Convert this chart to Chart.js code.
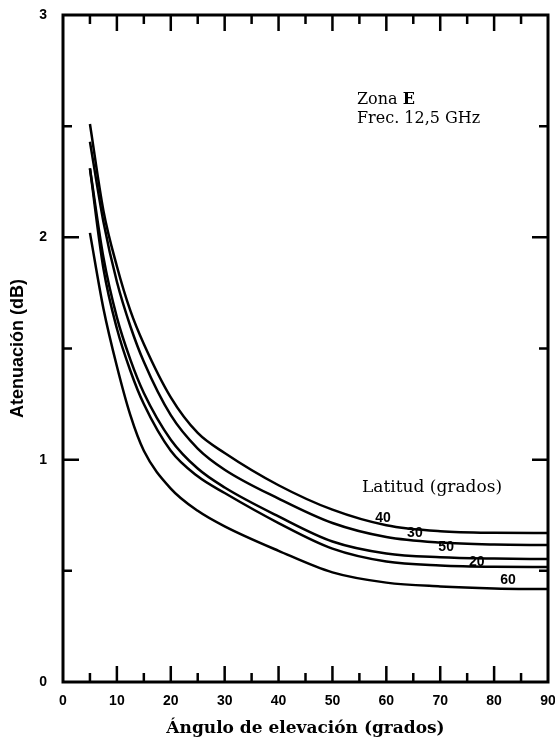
<!DOCTYPE html>
<html>
<head>
<meta charset="utf-8">
<script src="https://cdn.jsdelivr.net/npm/chart.js@4/dist/chart.umd.min.js"></script>
<style>
  html, body { margin: 0; padding: 0; background: #fff; }
  #wrap { width: 555px; height: 746px; }
</style>
</head>
<body>
<div id="wrap"><canvas id="atten"></canvas></div>
<script>
// Atenuación vs ángulo de elevación, por latitud (Zona E, 12,5 GHz)
const latitudes = ["40", "30", "50", "20", "60"];

// elevation angles where the curves were read (grados)
const angles = [5, 7.5, 10, 12.5, 15, 20, 25, 30, 40, 50, 60, 70, 80, 90];

// attenuation (dB) per latitude
const lat40 = [2.51, 2.12, 1.87, 1.67, 1.52, 1.28, 1.12, 1.03, 0.885, 0.775, 0.705, 0.678, 0.671, 0.67];
const lat30 = [2.43, 2.07, 1.80, 1.60, 1.44, 1.20, 1.05, 0.955, 0.825, 0.715, 0.652, 0.627, 0.618, 0.616];
const lat50 = [2.31, 1.91, 1.64, 1.45, 1.30, 1.09, 0.96, 0.875, 0.745, 0.632, 0.578, 0.561, 0.555, 0.553];
const lat20 = [2.31, 1.86, 1.59, 1.40, 1.25, 1.04, 0.925, 0.85, 0.715, 0.60, 0.542, 0.524, 0.518, 0.517];
const lat60 = [2.02, 1.68, 1.42, 1.20, 1.04, 0.87, 0.77, 0.70, 0.59, 0.493, 0.447, 0.43, 0.421, 0.418];

const xTicks = [0, 10, 20, 30, 40, 50, 60, 70, 80, 90];
const yTicks = [0, 1, 2, 3];

// curve label positions (angle, dB)
const labelX = [59.4, 65.3, 71.1, 76.8, 82.6];
const labelY = [0.738, 0.67, 0.607, 0.54, 0.459];

const series = [lat40, lat30, lat50, lat20, lat60].map((ys) =>
  angles.map((x, i) => ({ x, y: ys[i] }))
);

// inward ticks, frame and the text notes
const framePlugin = {
  id: "frame",
  afterDraw(chart) {
    const { ctx, chartArea: a, scales } = chart;
    const xs = scales.x, ys = scales.y;
    ctx.save();
    ctx.strokeStyle = "#000";
    ctx.lineWidth = 3;
    ctx.strokeRect(a.left, a.top, a.right - a.left, a.bottom - a.top);

    ctx.lineWidth = 2.5;
    ctx.beginPath();
    for (let v = 5; v < 90; v += 5) {
      const px = xs.getPixelForValue(v);
      const len = v % 10 === 0 ? 16 : 9;
      ctx.moveTo(px, a.bottom); ctx.lineTo(px, a.bottom - len);
      ctx.moveTo(px, a.top); ctx.lineTo(px, a.top + len);
    }
    for (let v = 0.5; v < 3; v += 0.5) {
      const py = ys.getPixelForValue(v);
      const len = v % 1 === 0 ? 16 : 9;
      ctx.moveTo(a.left, py); ctx.lineTo(a.left + len, py);
      ctx.moveTo(a.right, py); ctx.lineTo(a.right - len, py);
    }
    ctx.stroke();

    ctx.fillStyle = "#000";
    ctx.textBaseline = "middle";
    ctx.textAlign = "left";
    ctx.font = "16px 'DejaVu Serif'";
    ctx.fillText("Zona ", 357, 100);
    const zw = ctx.measureText("Zona ").width;
    ctx.font = "bold 16px 'DejaVu Serif'";
    ctx.fillText("E", 357 + zw, 100);
    ctx.font = "16px 'DejaVu Serif'";
    ctx.fillText("Frec. 12,5 GHz", 357, 119);
    ctx.font = "17px 'DejaVu Serif'";
    ctx.fillText("Latitud (grados)", 362, 488);

    ctx.textAlign = "center";
    ctx.font = "bold 14px 'Liberation Sans'";
    latitudes.forEach((lab, i) => {
      ctx.fillText(lab, xs.getPixelForValue(labelX[i]), ys.getPixelForValue(labelY[i]));
    });
    ctx.restore();
  },
};

new Chart(document.getElementById("atten"), {
  type: "line",
  data: {
    datasets: series.map((pts, i) => ({
      label: latitudes[i],
      data: pts,
      borderColor: "#000",
      borderWidth: 2.5,
      pointRadius: 0,
      fill: false,
      cubicInterpolationMode: "monotone",
    })),
  },
  options: {
    responsive: true,
    maintainAspectRatio: false,
    animation: false,
    layout: { padding: { top: 15, right: 7, left: 0, bottom: 0 } },
    plugins: { legend: { display: false }, tooltip: { enabled: false } },
    scales: {
      x: {
        type: "linear",
        min: 0,
        max: 90,
        afterBuildTicks: (s) => { s.ticks = xTicks.map((v) => ({ value: v })); },
        afterFit: (s) => {
          s.height = 64;
          s.paddingLeft = 0;
          s.paddingRight = 0;
        },
        grid: { display: false, drawTicks: false },
        border: { display: false },
        ticks: {
          padding: 11,
          color: "#000",
          maxRotation: 0,
          font: { family: "Liberation Sans", weight: "bold", size: 14 },
        },
        title: {
          display: true,
          text: "Ángulo de elevación (grados)",
          color: "#000",
          padding: { top: 0, bottom: 7 },
          font: { family: "DejaVu Serif", weight: "bold", size: 17 },
        },
      },
      y: {
        type: "linear",
        min: 0,
        max: 3,
        afterBuildTicks: (s) => { s.ticks = yTicks.map((v) => ({ value: v })); },
        afterFit: (s) => {
          s.width = 63;
          s.paddingTop = 0;
          s.paddingBottom = 0;
        },
        grid: { display: false, drawTicks: false },
        border: { display: false },
        ticks: {
          padding: 16,
          color: "#000",
          font: { family: "Liberation Sans", weight: "bold", size: 14 },
        },
        title: {
          display: true,
          text: "Atenuación (dB)",
          color: "#000",
          padding: { top: 7, bottom: 0 },
          font: { family: "Liberation Sans", weight: "bold", size: 18 },
        },
      },
    },
  },
  plugins: [framePlugin],
});
</script>
</body>
</html>
